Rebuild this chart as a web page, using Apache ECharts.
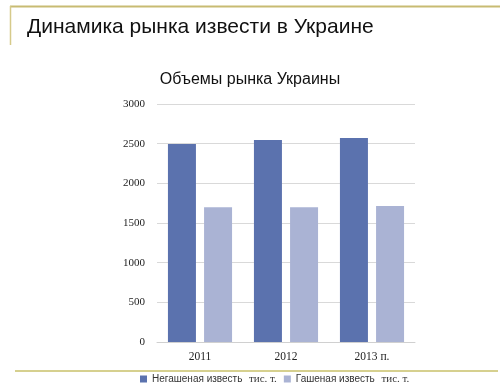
<!DOCTYPE html>
<html><head><meta charset="utf-8">
<script src="https://cdn.jsdelivr.net/npm/echarts@6/dist/echarts.min.js"></script>
<style>html,body{margin:0;padding:0;background:#fff}#c{width:500px;height:386px}</style>
</head><body><div id="c"></div>
<script>
const categories = ['2011', '2012', '2013 п.'];
const quicklime = [2495, 2545, 2570];
const slakedlime = [1700, 1700, 1715];
const seriesNames = ['Негашеная известь', 'Гашеная известь'];
const unit = 'тис. т.';
const yTicks = [0, 500, 1000, 1500, 2000, 2500, 3000];

const chart = echarts.init(document.getElementById('c'));
const serif = '"Liberation Serif", "DejaVu Serif", serif';
const sans = '"Liberation Sans", Arial, sans-serif';
chart.setOption({
  animation: false,
  backgroundColor: '#fff',
  title: [{
    text: 'Динамика рынка извести в Украине',
    left: 22, top: 12,
    textStyle: { fontFamily: sans, fontSize: 21, fontWeight: 'normal', color: '#111' }
  }, {
    text: 'Объемы рынка Украины',
    left: 'center', top: 67,
    textStyle: { fontFamily: sans, fontSize: 16, fontWeight: 'normal', color: '#111' }
  }],
  graphic: [
    { type: 'line', shape: { x1: 10, y1: 6.5, x2: 500, y2: 6.5 }, style: { stroke: '#c8bb72', lineWidth: 2 } },
    { type: 'line', shape: { x1: 10.5, y1: 6, x2: 10.5, y2: 45 }, style: { stroke: '#d6ca8a', lineWidth: 1.5 } },
    { type: 'line', shape: { x1: 15, y1: 371, x2: 498, y2: 371 }, style: { stroke: '#c9c06a', lineWidth: 1.5 } }
  ],
  legend: {
    top: 368, left: 135,
    itemWidth: 7, itemHeight: 7, itemGap: 7,
    icon: 'rect',
    data: seriesNames,
    formatter: n => '{a|' + n + '}  {b|' + unit + '}',
    textStyle: {
      color: '#333',
      rich: {
        a: { fontFamily: sans, fontSize: 10, color: '#333' },
        b: { fontFamily: serif, fontSize: 11, color: '#333' }
      }
    }
  },
  grid: { left: 157, right: 85, top: 104, bottom: 44 },
  xAxis: {
    type: 'category', data: categories,
    axisLine: { lineStyle: { color: '#d0d0d0' } },
    axisTick: { show: false },
    axisLabel: { fontFamily: serif, fontSize: 11.5, color: '#222', margin: 9 }
  },
  yAxis: {
    type: 'value', min: 0, max: 3000, interval: 500,
    axisLine: { show: false }, axisTick: { show: false },
    splitLine: { lineStyle: { color: '#d9d9d9' } },
    axisLabel: { fontFamily: serif, fontSize: 11, color: '#222', margin: 12,
      formatter: v => yTicks.includes(v) ? String(v) : '' }
  },
  series: [
    { name: seriesNames[0], type: 'bar', data: quicklime, barWidth: 28, barGap: '29%',
      itemStyle: { color: '#5b72ae' } },
    { name: seriesNames[1], type: 'bar', data: slakedlime, barWidth: 28,
      itemStyle: { color: '#aab3d4' } }
  ]
});
</script></body></html>
